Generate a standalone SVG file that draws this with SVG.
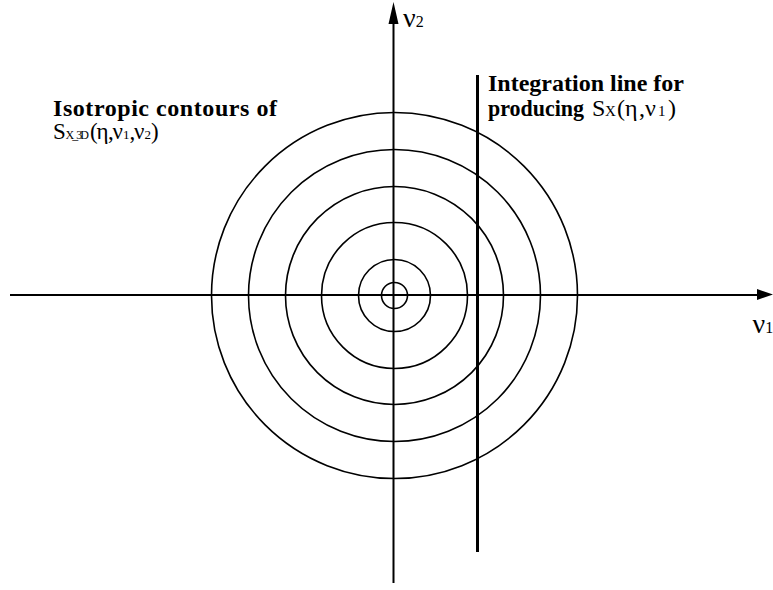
<svg xmlns="http://www.w3.org/2000/svg" width="773" height="590" viewBox="0 0 773 590">
<style>
.ax{stroke:#000;stroke-width:2;fill:none}
.c{stroke:#000;stroke-width:1.6;fill:none}
text{fill:#000}
.f{font-family:"Liberation Serif","Times New Roman",Tinos,serif}
</style>
<rect width="773" height="590" fill="#fff"/>
<g id="circles">
<circle class="c" cx="394.5" cy="295.5" r="13"/>
<circle class="c" cx="394.5" cy="295.5" r="36"/>
<circle class="c" cx="394.5" cy="295.5" r="73"/>
<circle class="c" cx="394.5" cy="295.5" r="109"/>
<circle class="c" cx="394.5" cy="295.5" r="146"/>
<circle class="c" cx="394.5" cy="295.5" r="183"/>
</g>
<g id="axes">
<line class="ax" x1="10" y1="295" x2="758" y2="295"/>
<polygon points="773,294.5 757,289 757,300" fill="#000"/>
<line class="ax" x1="393.5" y1="583" x2="393.5" y2="22"/>
<polygon points="393.5,2 388.5,24 398.5,24" fill="#000"/>
<line id="integration-line" x1="477.5" y1="75" x2="477.5" y2="552" stroke="#000" stroke-width="3"/>
</g>
<g id="axis-labels" class="f">
<text x="403" y="27"><tspan font-size="28">ν</tspan><tspan font-size="16">2</tspan></text>
<text x="752.5" y="333"><tspan font-size="28">ν</tspan><tspan font-size="16">1</tspan></text>
</g>
<g id="label-contours" class="f">
<text x="53" y="116" font-size="24" font-weight="bold" textLength="224" lengthAdjust="spacing">Isotropic contours of</text>
<text y="139" font-size="23"><tspan x="53">S</tspan><tspan x="65.5" font-size="12" textLength="23.5">X_3D</tspan><tspan x="90">(</tspan><tspan x="96.5">η</tspan><tspan x="108">,</tspan><tspan x="112.5">ν</tspan><tspan x="123" font-size="13">1</tspan><tspan x="129.5">,</tspan><tspan x="134">ν</tspan><tspan x="144.5" font-size="13">2</tspan><tspan x="151">)</tspan></text>
</g>
<g id="label-integration" class="f">
<text x="488" y="91" font-size="24" font-weight="bold" textLength="196" lengthAdjust="spacingAndGlyphs">Integration line for</text>
<text y="116" font-size="24"><tspan x="488" font-weight="bold" textLength="96" lengthAdjust="spacingAndGlyphs">producing</tspan><tspan x="592">S</tspan><tspan x="605" font-size="15">X</tspan><tspan x="617">(</tspan><tspan x="625">η</tspan><tspan x="639">,</tspan><tspan x="645">ν</tspan><tspan x="658" font-size="15">1</tspan><tspan x="668">)</tspan></text>
</g>
</svg>
